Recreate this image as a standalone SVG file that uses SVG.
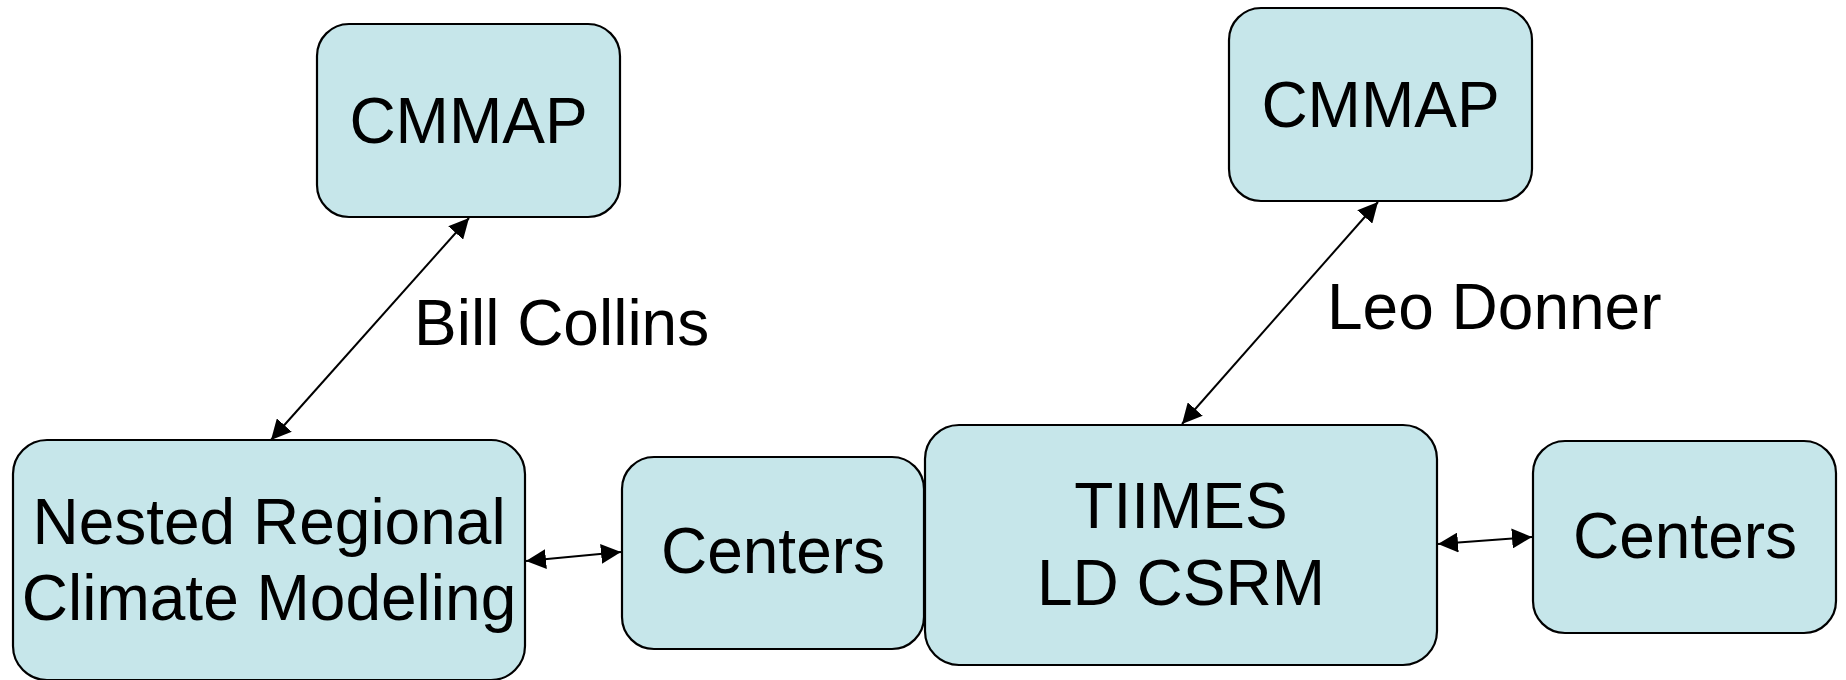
<svg xmlns="http://www.w3.org/2000/svg" width="1846" height="680" viewBox="0 0 1846 680">
<style>
.box{fill:#C6E6EA;stroke:#000;stroke-width:2.2}
.t{font-family:"Liberation Sans",Arial,sans-serif;font-size:64px;fill:#000;text-anchor:middle}
.lbl{font-family:"Liberation Sans",Arial,sans-serif;font-size:64px;fill:#000}
.c{stroke:#000;stroke-width:2;fill:none;marker-start:url(#ah);marker-end:url(#ah)}
</style>
<defs>
<marker id="ah" markerUnits="userSpaceOnUse" markerWidth="20" markerHeight="20" refX="20" refY="10" orient="auto-start-reverse" viewBox="0 0 20 20">
<path d="M0,0 L20,10 L0,20 z" fill="#000"/>
</marker>
</defs>
<rect width="1846" height="680" fill="#fff"/>
<g id="connectors">
<line class="c" x1="271" y1="440" x2="469" y2="218"/>
<line class="c" x1="1182" y1="424" x2="1378" y2="202"/>
<line class="c" x1="526" y1="561" x2="621" y2="552"/>
<line class="c" x1="1438" y1="544" x2="1532" y2="537"/>
</g>
<g id="cmmap1">
<rect class="box" x="317" y="24" width="303" height="193" rx="32" ry="32"/>
<text class="t" x="468.5" y="143">CMMAP</text>
</g>
<g id="cmmap2">
<rect class="box" x="1229" y="8" width="303" height="193" rx="32" ry="32"/>
<text class="t" x="1380.5" y="127">CMMAP</text>
</g>
<g id="nested">
<rect class="box" x="13" y="440" width="512" height="240" rx="34" ry="34"/>
<text class="t" x="269" y="544">Nested Regional</text>
<text class="t" x="269" y="620">Climate Modeling</text>
</g>
<g id="centers1">
<rect class="box" x="622" y="457" width="302" height="192" rx="32" ry="32"/>
<text class="t" x="773" y="573">Centers</text>
</g>
<g id="tiimes">
<rect class="box" x="925" y="425" width="512" height="240" rx="34" ry="34"/>
<text class="t" x="1181" y="528">TIIMES</text>
<text class="t" x="1181" y="605">LD CSRM</text>
</g>
<g id="centers2">
<rect class="box" x="1533" y="441" width="303" height="192" rx="32" ry="32"/>
<text class="t" x="1685" y="558">Centers</text>
</g>
<g id="labels">
<text class="lbl" x="414" y="345">Bill Collins</text>
<text class="lbl" x="1327" y="329">Leo Donner</text>
</g>
</svg>
